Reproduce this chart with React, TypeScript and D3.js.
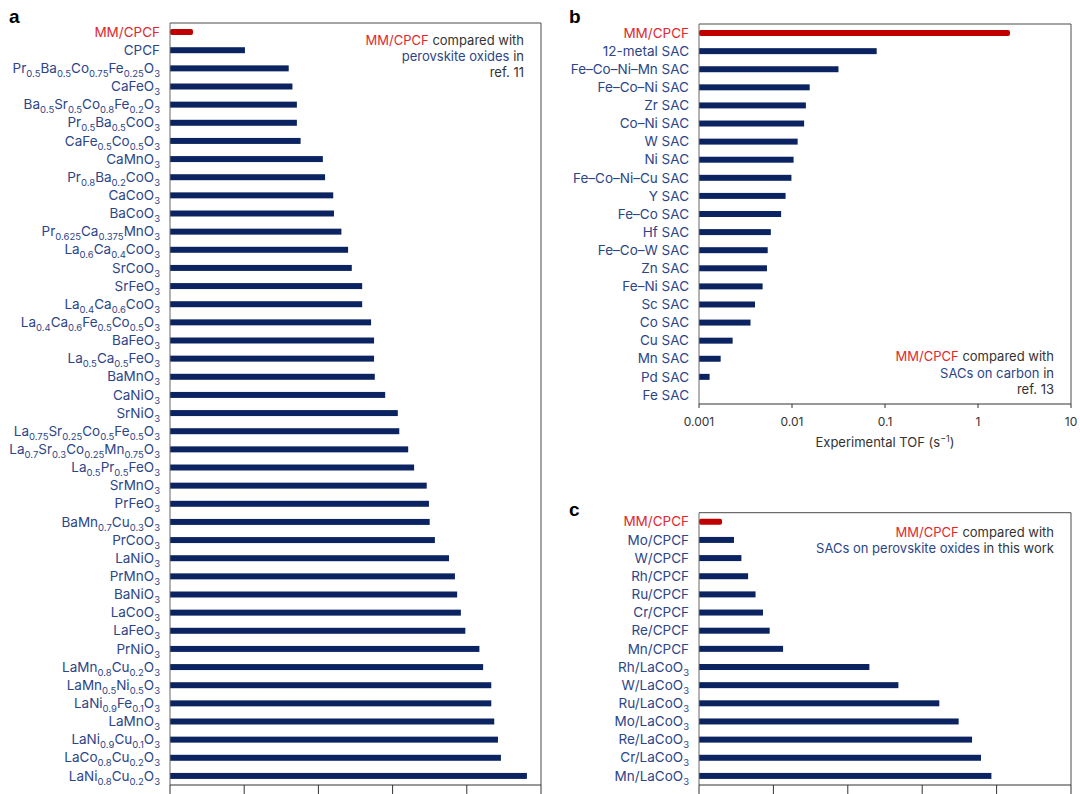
import React from "react";
import * as d3 from "d3";

// Panel a: MM/CPCF vs perovskite oxides (ref. 11)
const perovskiteLabels = [
  "MM/CPCF", "CPCF", "Pr0.5Ba0.5Co0.75Fe0.25O3", "CaFeO3", "Ba0.5Sr0.5Co0.8Fe0.2O3",
  "Pr0.5Ba0.5CoO3", "CaFe0.5Co0.5O3", "CaMnO3", "Pr0.8Ba0.2CoO3", "CaCoO3", "BaCoO3",
  "Pr0.625Ca0.375MnO3", "La0.6Ca0.4CoO3", "SrCoO3", "SrFeO3", "La0.4Ca0.6CoO3",
  "La0.4Ca0.6Fe0.5Co0.5O3", "BaFeO3", "La0.5Ca0.5FeO3", "BaMnO3", "CaNiO3", "SrNiO3",
  "La0.75Sr0.25Co0.5Fe0.5O3", "La0.7Sr0.3Co0.25Mn0.75O3", "La0.5Pr0.5FeO3", "SrMnO3",
  "PrFeO3", "BaMn0.7Cu0.3O3", "PrCoO3", "LaNiO3", "PrMnO3", "BaNiO3", "LaCoO3", "LaFeO3",
  "PrNiO3", "LaMn0.8Cu0.2O3", "LaMn0.5Ni0.5O3", "LaNi0.9Fe0.1O3", "LaMnO3",
  "LaNi0.9Cu0.1O3", "LaCo0.8Cu0.2O3", "LaNi0.8Cu0.2O3",
];
const perovskiteValues = [
  0.31, 1.01, 1.6, 1.65, 1.71, 1.71, 1.76, 2.06, 2.09, 2.2, 2.21, 2.31, 2.4, 2.45, 2.59,
  2.59, 2.71, 2.75, 2.75, 2.76, 2.9, 3.07, 3.09, 3.21, 3.29, 3.46, 3.49, 3.5, 3.57, 3.76,
  3.84, 3.87, 3.92, 3.98, 4.17, 4.22, 4.33, 4.33, 4.37, 4.42, 4.46, 4.81,
];

// Panel b: experimental TOF (s^-1), SACs on carbon (ref. 13)
const carbonLabels = [
  "MM/CPCF", "12-metal SAC", "Fe–Co–Ni–Mn SAC", "Fe–Co–Ni SAC", "Zr SAC", "Co–Ni SAC",
  "W SAC", "Ni SAC", "Fe–Co–Ni–Cu SAC", "Y SAC", "Fe–Co SAC", "Hf SAC", "Fe–Co–W SAC",
  "Zn SAC", "Fe–Ni SAC", "Sc SAC", "Co SAC", "Cu SAC", "Mn SAC", "Pd SAC", "Fe SAC",
];
const carbonTOF = [
  2.21, 0.0814, 0.0316, 0.0155, 0.0141, 0.0135, 0.0115, 0.0104, 0.00986, 0.00853,
  0.00764, 0.00592, 0.00548, 0.00538, 0.00483, 0.004, 0.00358, 0.0023, 0.00171, 0.0013,
  0.001,
];
const tofTicks = [0.001, 0.01, 0.1, 1, 10];

// Panel c: SACs on perovskite oxides in this work
const thisWorkLabels = [
  "MM/CPCF", "Mo/CPCF", "W/CPCF", "Rh/CPCF", "Ru/CPCF", "Cr/CPCF", "Re/CPCF", "Mn/CPCF",
  "Rh/LaCoO3", "W/LaCoO3", "Ru/LaCoO3", "Mo/LaCoO3", "Re/LaCoO3", "Cr/LaCoO3", "Mn/LaCoO3",
];
const thisWorkValues = [
  0.31, 0.47, 0.57, 0.66, 0.76, 0.86, 0.95, 1.13, 2.29, 2.68, 3.23, 3.49, 3.67, 3.79, 3.93,
];
const linearTicks = [0, 1, 2, 3, 4, 5];

const FONT = "Inter, 'Liberation Sans', Arial, sans-serif";
const NAVY = "#0b2461";
const RED = "#c00000";
const RED_TEXT = "#e0282e";
const LABEL = "#2c4588";
const DARK = "#333333";
const FRAME = "#4a4a4a";
const LABEL_SIZE = 13.5;
const SUB_SIZE = 9.5;

function Formula({ text, sub }: { text: string; sub: boolean }) {
  if (!sub) return <>{text}</>;
  const parts = text.split(/(\d+(?:\.\d+)?)/).filter((p) => p !== "");
  let low = false;
  return (
    <>
      {parts.map((p, i) => {
        const num = /^\d/.test(p);
        let dy = 0;
        if (num && !low) { dy = 4; low = true; }
        else if (!num && low) { dy = -4; low = false; }
        return (
          <tspan key={i} dy={dy} fontSize={num ? SUB_SIZE : LABEL_SIZE}>{p}</tspan>
        );
      })}
    </>
  );
}

type PanelProps = {
  labels: string[];
  values: number[];
  x: any;
  top: number;
  bottom: number;
  left: number;
  right: number;
  sub: boolean;
  ticks: number[];
  tickLabels: boolean;
};

function BarPanel({ labels, values, x, top, bottom, left, right, sub, ticks, tickLabels }: PanelProps) {
  const y = d3.scaleBand<string>().domain(labels).range([top, bottom]).paddingInner(0.67).paddingOuter(0.335);
  const h = y.bandwidth();
  const x0 = x.range()[0];
  return (
    <g>
      {labels.map((l, i) => {
        const first = i === 0;
        const yc = (y(l) as number) + h / 2;
        return (
          <g key={l}>
            <rect
              x={x0}
              y={y(l)}
              width={Math.max(0, x(values[i]) - x0)}
              height={h}
              fill={first ? RED : NAVY}
              rx={first ? 2 : 0}
            />
            <text
              x={left - 10}
              y={yc + 4.7}
              textAnchor="end"
              fontSize={LABEL_SIZE}
              fill={first ? RED_TEXT : LABEL}
            >
              <Formula text={l} sub={sub} />
            </text>
          </g>
        );
      })}
      {/* frame: top and right edges, axes on left and bottom */}
      <path d={`M${left},${top}H${right}V${bottom}`} fill="none" stroke={FRAME} strokeWidth={1} />
      <line x1={left} x2={left} y1={top} y2={bottom} stroke="#666" strokeWidth={1} />
      <line x1={left} x2={right} y1={bottom} y2={bottom} stroke={DARK} strokeWidth={1} />
      {ticks.map((t) => (
        <g key={t} transform={`translate(${x(t)},${bottom})`}>
          <line y1={0} y2={tickLabels ? 4 : 10} stroke={DARK} strokeWidth={1} />
          {tickLabels && (
            <text y={22} textAnchor="middle" fontSize={12} fill={DARK}>
              {String(t)}
            </text>
          )}
        </g>
      ))}
    </g>
  );
}

export default function App() {
  const W = 1080;
  const H = 794;
  const xA = d3.scaleLinear().domain([0, 5]).range([170, 541]);
  const xB = d3.scaleLog().domain([0.001, 10]).range([699, 1071]);
  const xC = d3.scaleLinear().domain([0, 5]).range([699, 1071]);

  return (
    <svg
      width={W}
      height={H}
      style={{ position: "absolute", left: 0, top: 0, background: "#fff" }}
      fontFamily={FONT}
    >
      <rect width={W} height={H} fill="#fff" />

      {/* a */}
      <text x={9} y={23} fontSize={19} fontWeight="bold" fontFamily="Arial, 'Liberation Sans', sans-serif" fill="#000">a</text>
      <BarPanel
        labels={perovskiteLabels}
        values={perovskiteValues}
        x={xA}
        top={23}
        bottom={785}
        left={170}
        right={541}
        sub={true}
        ticks={linearTicks}
        tickLabels={false}
      />
      <g fontSize={13} textAnchor="end">
        <text x={524} y={45}>
          <tspan fill={RED_TEXT}>MM/CPCF</tspan>
          <tspan fill={DARK}> compared with</tspan>
        </text>
        <text x={524} y={61}>
          <tspan fill={LABEL}>perovskite oxides</tspan>
          <tspan fill={DARK}> in</tspan>
        </text>
        <text x={524} y={77} fill={DARK}>ref. 11</text>
      </g>

      {/* b */}
      <text x={569} y={23} fontSize={19} fontWeight="bold" fontFamily="Arial, 'Liberation Sans', sans-serif" fill="#000">b</text>
      <BarPanel
        labels={carbonLabels}
        values={carbonTOF}
        x={xB}
        top={24}
        bottom={404}
        left={699}
        right={1071}
        sub={false}
        ticks={tofTicks}
        tickLabels={true}
      />
      <text x={885} y={447} textAnchor="middle" fontSize={13} fill={DARK}>
        Experimental TOF (s<tspan dy={-5} fontSize={9}>−1</tspan><tspan dy={5}>)</tspan>
      </text>
      <g fontSize={13} textAnchor="end">
        <text x={1054} y={361}>
          <tspan fill={RED_TEXT}>MM/CPCF</tspan>
          <tspan fill={DARK}> compared with</tspan>
        </text>
        <text x={1054} y={377.5}>
          <tspan fill={LABEL}>SACs on carbon</tspan>
          <tspan fill={DARK}> in</tspan>
        </text>
        <text x={1054} y={394} fill={DARK}>ref. 13</text>
      </g>

      {/* c */}
      <text x={569} y={516} fontSize={19} fontWeight="bold" fontFamily="Arial, 'Liberation Sans', sans-serif" fill="#000">c</text>
      <BarPanel
        labels={thisWorkLabels}
        values={thisWorkValues}
        x={xC}
        top={512.7}
        bottom={785}
        left={699}
        right={1071}
        sub={true}
        ticks={linearTicks}
        tickLabels={false}
      />
      <g fontSize={13} textAnchor="end">
        <text x={1054} y={537}>
          <tspan fill={RED_TEXT}>MM/CPCF</tspan>
          <tspan fill={DARK}> compared with</tspan>
        </text>
        <text x={1054} y={553}>
          <tspan fill={LABEL}>SACs on perovskite oxides</tspan>
          <tspan fill={DARK}> in this work</tspan>
        </text>
      </g>
    </svg>
  );
}
